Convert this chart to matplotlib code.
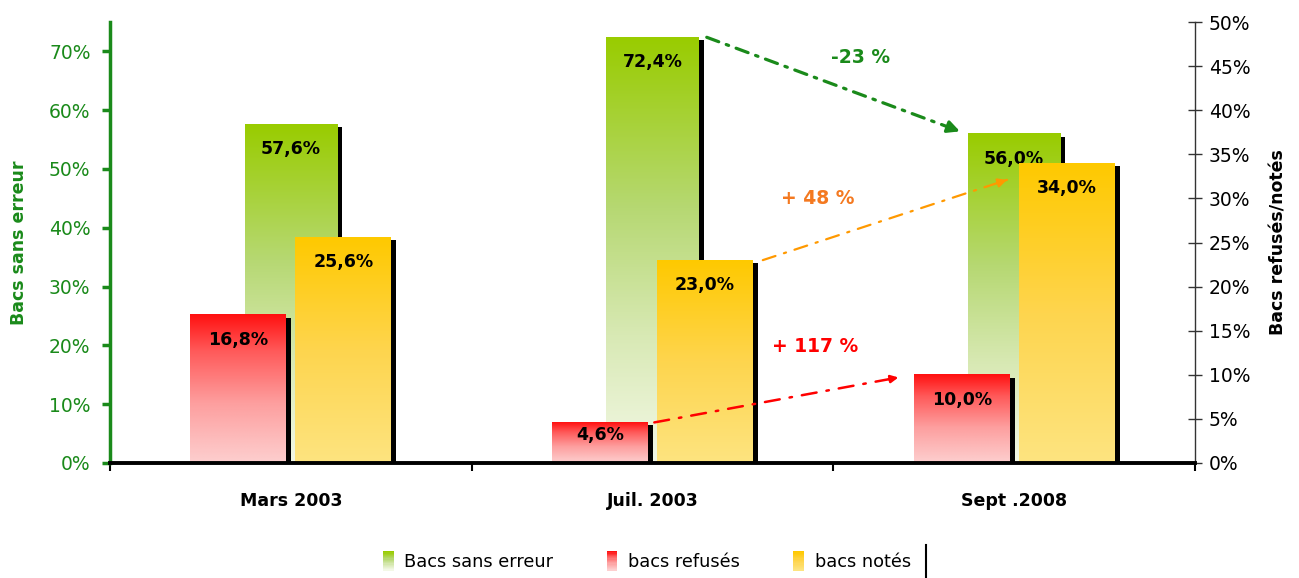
import numpy as np
import matplotlib.pyplot as plt
import matplotlib.transforms as mtransforms
from matplotlib.colors import LinearSegmentedColormap
from matplotlib.patches import Rectangle, Patch
from matplotlib.lines import Line2D
from matplotlib.legend_handler import HandlerBase

# data
periods = ['Mars 2003', 'Juil. 2003', 'Sept .2008']
sans_erreur = [57.6, 72.4, 56.0]   # left axis
refuses = [16.8, 4.6, 10.0]        # right axis
notes = [25.6, 23.0, 34.0]         # right axis
left_ticks = [0, 10, 20, 30, 40, 50, 60, 70]
right_ticks = [0, 5, 10, 15, 20, 25, 30, 35, 40, 45, 50]
evolutions = ['-23 %', '+ 48 %', '+ 117 %']

GREEN = [(0, '#f3f8e6'), (0.3, '#d8e9b4'), (0.6, '#b6d872'), (1, '#99cc00')]
RED = [(0, '#fdcfcf'), (0.4, '#fd9f9f'), (0.75, '#ff5a5a'), (1, '#ff1010')]
YELLOW = [(0, '#fde480'), (0.5, '#fed54e'), (1, '#ffc900')]


def pct(v):
    return f"{v:.1f}%".replace('.', ',')


def gradient_bars(ax, xs, heights, width, colors, fig):
    cmap = LinearSegmentedColormap.from_list('g', colors)
    grad = np.linspace(0, 1, 256).reshape(-1, 1)
    ymax = ax.get_ylim()[1]
    # black shadow, shifted right/down
    off = mtransforms.ScaledTranslation(5 / 100, -3 / 100, fig.dpi_scale_trans)
    for x, h in zip(xs, heights):
        ax.add_patch(Rectangle((x - width / 2, 0), width, h, facecolor='black', lw=0,
                               zorder=1.5, transform=ax.transData + off))
        ax.imshow(grad, extent=(x - width / 2, x + width / 2, 0, h), origin='lower',
                  cmap=cmap, aspect='auto', zorder=2, interpolation='bilinear')
        dy = -18 if h / ymax > 0.15 else -9
        ax.annotate(pct(h), (x, h), xytext=(0, dy), textcoords='offset points',
                    ha='center', va='center', fontsize=12.5, fontweight='bold', zorder=5)


class GradientHandler(HandlerBase):
    def __init__(self, colors):
        super().__init__()
        self.colors = colors

    def create_artists(self, legend, orig_handle, xdescent, ydescent, width, height, fontsize, trans):
        cmap = LinearSegmentedColormap.from_list('g', self.colors)
        n = 16
        arts = []
        for i in range(n):
            arts.append(Rectangle((-xdescent, -ydescent + i * height / n), width, height / n + 0.2,
                                  facecolor=cmap(i / (n - 1)), lw=0, transform=trans))
        return arts


fig = plt.figure(figsize=(12.99, 5.78), dpi=100)
ax = fig.add_axes([110 / 1299, 1 - 463 / 578, 1085 / 1299, 441 / 578])
ax2 = ax.twinx()

ax.set_xlim(-0.5, 2.5)
ax.set_ylim(0, 75)
ax2.set_ylim(0, 50)

x = np.arange(len(periods))
gradient_bars(ax, x, sans_erreur, 0.255, GREEN, fig)
gradient_bars(ax2, x - 0.145, refuses, 0.265, RED, fig)
gradient_bars(ax2, x + 0.145, notes, 0.265, YELLOW, fig)

ax.set_xlim(-0.5, 2.5)
ax.set_ylim(0, 75)
ax2.set_ylim(0, 50)

ax.set_yticks(left_ticks)
ax.set_yticklabels([f"{t}%" for t in left_ticks])
ax2.set_yticks(right_ticks)
ax2.set_yticklabels([f"{t}%" for t in right_ticks])

ax.tick_params(axis='y', colors='#1a8a1a', labelsize=13.5, length=6, width=2.5,
               direction='out', pad=8)
ax2.tick_params(axis='y', colors='#333333', labelcolor='black', labelsize=13.5, length=10,
                width=1, direction='inout', pad=5)

ax.set_xticks(x)
ax.set_xticklabels(periods, fontsize=12.5, fontweight='bold')
ax.set_xticks([-0.5, 0.5, 1.5, 2.5], minor=True)
ax.tick_params(axis='x', which='major', length=0, pad=21)
ax.tick_params(axis='x', which='minor', length=6, width=1.5, color='black')

for s in ['top', 'right', 'bottom']:
    ax.spines[s].set_visible(False)
ax.spines['left'].set_color('#1a8a1a')
ax.spines['left'].set_linewidth(2.5)
ax2.spines['top'].set_visible(False)
ax2.spines['left'].set_visible(False)
ax2.spines['right'].set_color('#333333')
ax2.spines['right'].set_linewidth(1)
ax2.spines['bottom'].set_color('black')
ax2.spines['bottom'].set_linewidth(2.8)
ax2.spines['bottom'].set_zorder(6)

ax.set_ylabel('Bacs sans erreur', color='#1a8a1a', fontsize=12.5, fontweight='bold')
ax.yaxis.set_label_coords(-0.076, 0.5)
ax2.set_ylabel('Bacs refusés/notés', color='black', fontsize=12.5, fontweight='bold')
ax2.yaxis.set_label_coords(1.069, 0.5)


# evolution arrows
def dashed_arrow(axis, start, end, color, lw, dashes, head):
    axis.annotate('', xy=end, xytext=start,
                  arrowprops=dict(arrowstyle='-', color=color, lw=lw, linestyle=(0, dashes),
                                  shrinkA=0, shrinkB=0), zorder=7)
    sx, sy = start
    ex, ey = end
    pre = (ex - (ex - sx) * 0.04, ey - (ey - sy) * 0.04)
    axis.annotate('', xy=end, xytext=pre,
                  arrowprops=dict(arrowstyle='-|>', color=color, lw=lw, mutation_scale=head,
                                  shrinkA=0, shrinkB=0), zorder=7)


dashed_arrow(ax, (1.15, sans_erreur[1]), (1.85, 56.4), '#1a8a1a', 2.3, (4, 2.5, 0.8, 2.5), 18)
dashed_arrow(ax2, (1.305, notes[1]), (1.98, 32.1), '#ff9900', 1.6, (6, 4, 1, 4), 13)
dashed_arrow(ax2, (1.005, refuses[1]), (1.68, 9.7), '#ff0000', 1.8, (6, 4, 1, 4), 11)

ax.text(1.574, 69.0, evolutions[0], color='#1a8a1a', fontsize=13.5, fontweight='bold',
        ha='center', va='center')
ax2.text(1.457, 30.0, evolutions[1], color='#f47920', fontsize=13.5, fontweight='bold',
         ha='center', va='center')
ax2.text(1.449, 13.2, evolutions[2], color='#ff0000', fontsize=13.5, fontweight='bold',
         ha='center', va='center')

# legend
h1, h2, h3 = Patch(), Patch(), Patch()
leg = fig.legend([h1, h2, h3], ['Bacs sans erreur', 'bacs refusés', 'bacs notés'],
                 handler_map={h1: GradientHandler(GREEN), h2: GradientHandler(RED),
                              h3: GradientHandler(YELLOW)},
                 loc='center', bbox_to_anchor=(0.498, 1 - 561 / 578), ncol=3, frameon=False,
                 fontsize=12.8, handlelength=0.6, handleheight=1.3, handletextpad=0.6,
                 columnspacing=3.0)

fig.canvas.draw()
bb = leg.get_window_extent()
lx = (bb.x1 + 8) / fig.bbox.width
fig.add_artist(Line2D([lx, lx], [0.0, 1 - 545 / 578], color='black', lw=1.5))

fig.savefig('out.png', dpi=100)
